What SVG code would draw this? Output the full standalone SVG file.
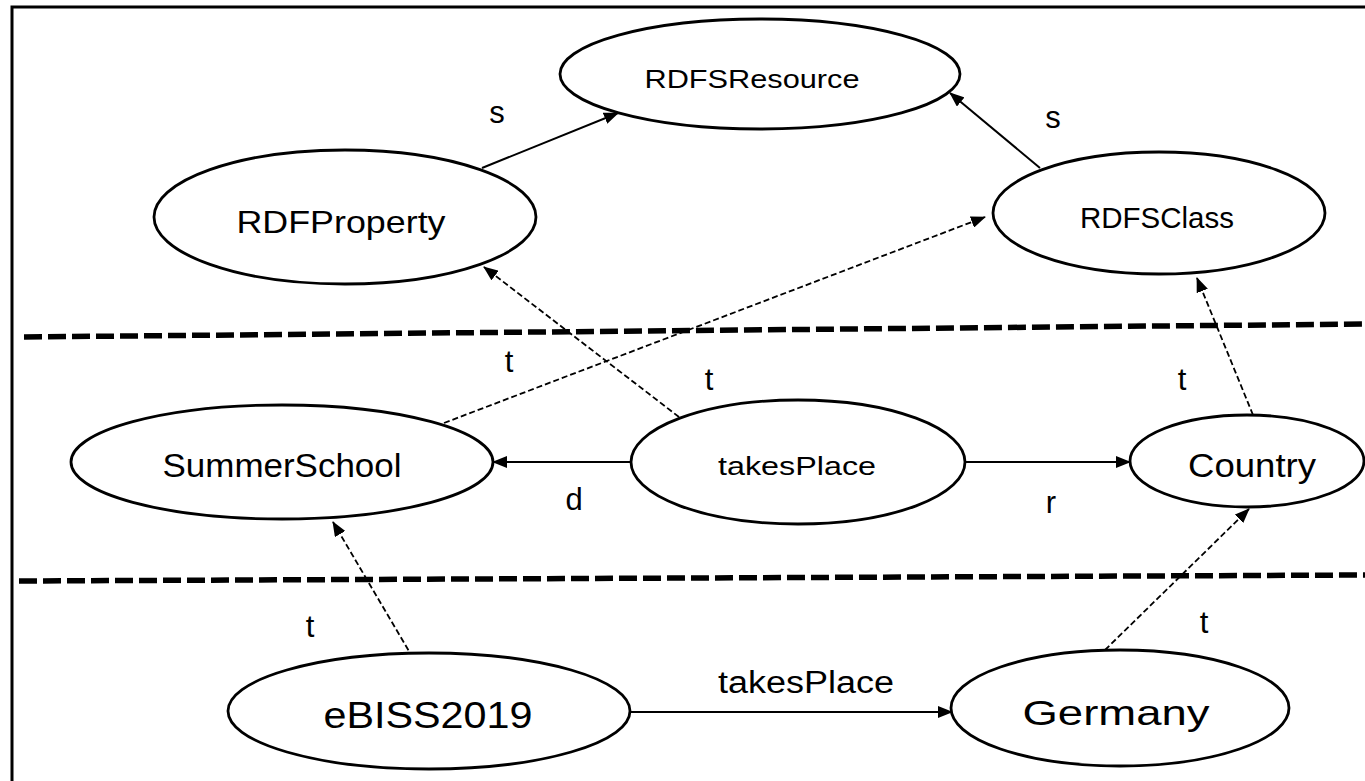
<svg xmlns="http://www.w3.org/2000/svg" width="1365" height="781" viewBox="0 0 1365 781">
<style>
.node ellipse{fill:#fff;stroke:#000;stroke-width:2.8}
.node text{font-family:"Liberation Sans",Arial,sans-serif;fill:#000;text-anchor:middle}
.solid{stroke:#000;stroke-width:2;fill:none;marker-end:url(#ah)}
.dash{stroke:#000;stroke-width:1.8;fill:none;stroke-dasharray:6 3;marker-end:url(#ah)}
.sep{stroke:#000;stroke-width:5.5;stroke-dasharray:18 6;fill:none}
.lbl{font-family:"Liberation Sans",Arial,sans-serif;font-size:31px;fill:#000;text-anchor:middle}
</style>
<defs>
<marker id="ah" markerWidth="15" markerHeight="12" refX="14" refY="6" orient="auto" markerUnits="userSpaceOnUse">
<path d="M0,0 L15,6 L0,12 Z" fill="#000"/>
</marker>
</defs>
<rect x="0" y="0" width="1365" height="781" fill="#fff"/>
<rect x="12" y="7" width="1400" height="800" fill="none" stroke="#000" stroke-width="3"/>
<g id="separators">
<line class="sep" x1="24" y1="337" x2="1365" y2="324"/>
<line class="sep" x1="19" y1="581" x2="1365" y2="575"/>
</g>
<g id="connectors">
<line class="solid" x1="482" y1="168" x2="618" y2="113"/>
<line class="solid" x1="1040" y1="168" x2="950" y2="93"/>
<line class="dash" x1="679" y1="417" x2="484" y2="267"/>
<line class="dash" x1="444" y1="423" x2="985" y2="217"/>
<line class="dash" x1="1253" y1="415" x2="1197" y2="278"/>
<line class="solid" x1="632" y1="462" x2="493" y2="462"/>
<line class="solid" x1="966" y1="462" x2="1130" y2="462"/>
<line class="dash" x1="413" y1="658" x2="333" y2="522"/>
<line class="dash" x1="1105" y1="650" x2="1249" y2="509"/>
<line class="solid" x1="629" y1="712" x2="952" y2="712"/>
<text class="lbl" x="497" y="123">s</text>
<text class="lbl" x="1053" y="128">s</text>
<text class="lbl" x="509" y="372">t</text>
<text class="lbl" x="709" y="390">t</text>
<text class="lbl" x="1182" y="390">t</text>
<text class="lbl" x="574" y="510">d</text>
<text class="lbl" x="1051" y="513">r</text>
<text class="lbl" x="310" y="637">t</text>
<text class="lbl" x="1204" y="633">t</text>
<text class="lbl" x="806" y="693" font-size="28" textLength="176" lengthAdjust="spacingAndGlyphs">takesPlace</text>
</g>
<g id="RDFSResource" class="node"><ellipse cx="760" cy="74" rx="200" ry="55"/><text x="752" y="88" font-size="25" textLength="215" lengthAdjust="spacingAndGlyphs">RDFSResource</text></g>
<g id="RDFProperty" class="node"><ellipse cx="345" cy="217" rx="191" ry="67"/><text x="341" y="233" font-size="32" textLength="209" lengthAdjust="spacingAndGlyphs">RDFProperty</text></g>
<g id="RDFSClass" class="node"><ellipse cx="1159" cy="213" rx="166" ry="61"/><text x="1157" y="228" font-size="29" textLength="154" lengthAdjust="spacingAndGlyphs">RDFSClass</text></g>
<g id="SummerSchool" class="node"><ellipse cx="282" cy="462" rx="211" ry="57"/><text x="282" y="477" font-size="34" textLength="239" lengthAdjust="spacingAndGlyphs">SummerSchool</text></g>
<g id="takesPlace" class="node"><ellipse cx="798" cy="462" rx="167" ry="62"/><text x="797" y="475" font-size="26" textLength="158" lengthAdjust="spacingAndGlyphs">takesPlace</text></g>
<g id="Country" class="node"><ellipse cx="1247" cy="461" rx="117" ry="46"/><text x="1252" y="477" font-size="34" textLength="128" lengthAdjust="spacingAndGlyphs">Country</text></g>
<g id="eBISS2019" class="node"><ellipse cx="429" cy="711" rx="201" ry="58"/><text x="428" y="728" font-size="36" textLength="209" lengthAdjust="spacingAndGlyphs">eBISS2019</text></g>
<g id="Germany" class="node"><ellipse cx="1120" cy="708" rx="169" ry="58"/><text x="1116" y="725" font-size="35" textLength="187" lengthAdjust="spacingAndGlyphs">Germany</text></g>
</svg>
